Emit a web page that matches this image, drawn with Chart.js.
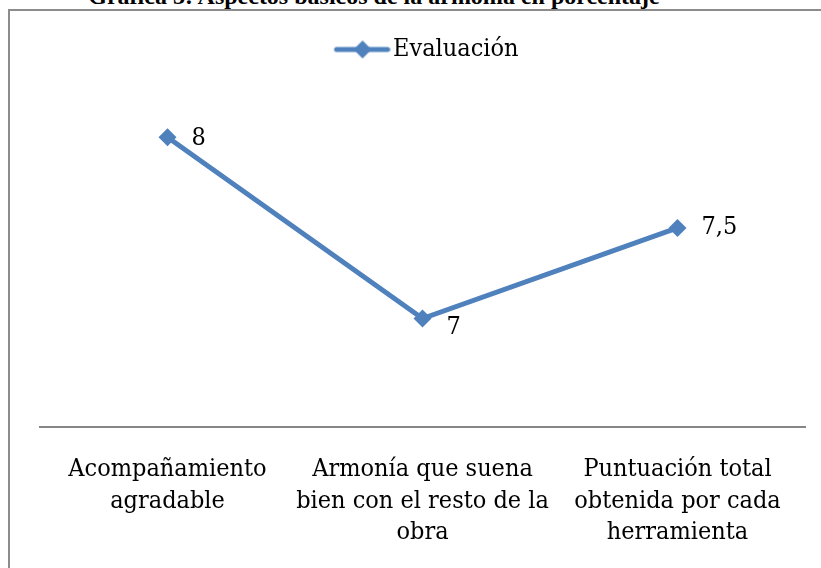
<!DOCTYPE html>
<html>
<head>
<meta charset="utf-8">
<script src="https://cdn.jsdelivr.net/npm/chart.js@4.4.1/dist/chart.umd.min.js"></script>
<style>
  body { margin: 0; background: #fff; overflow: hidden; }
  #wrap { position: relative; width: 821px; height: 568px; overflow: hidden; }
  #title {
    position: absolute; left: 0; top: -17px; width: 748px; text-align: center;
    font: bold 24px "Liberation Serif", serif; color: #000; white-space: nowrap;
  }
  #frame {
    position: absolute; left: 8px; top: 9px; width: 840px; height: 620px;
    border: 2px solid #8c8c8c; box-sizing: border-box;
  }
  canvas { position: absolute; left: 0; top: 0; }
</style>
</head>
<body>
<div id="wrap">
  <div id="title">Gráfica 3: Aspectos básicos de la armonía en porcentaje</div>
  <div id="frame"></div>
  <canvas id="myChart" width="821" height="600"></canvas>
</div>
<script>
// datos
const categorias = [
    ['Acompañamiento', 'agradable'],
    ['Armonía que suena', 'bien con el resto de la', 'obra'],
    ['Puntuación total', 'obtenida por cada', 'herramienta']
];
const evaluacion = [8, 7, 7.5];
const serieNombre = 'Evaluación';

const azul = '#4F81BD';
const fuente = '"DejaVu Serif Condensed", "DejaVu Serif", serif';

// icono de la leyenda: linea con rombo (con margen a la izquierda)
function legendIcon() {
    const c = document.createElement('canvas');
    c.width = 74; c.height = 22;
    const g = c.getContext('2d');
    g.strokeStyle = azul;
    g.lineWidth = 5;
    g.lineCap = 'round';
    g.beginPath(); g.moveTo(20, 11); g.lineTo(71, 11); g.stroke();
    g.fillStyle = azul;
    g.beginPath(); g.moveTo(46, 2); g.lineTo(55, 11); g.lineTo(46, 20); g.lineTo(37, 11); g.closePath(); g.fill();
    return c;
}
const icon = legendIcon();

// etiquetas de datos a la derecha de cada punto
const etiquetas = {
    id: 'etiquetas',
    afterDatasetsDraw(chart) {
        const ctx = chart.ctx;
        const meta = chart.getDatasetMeta(0);
        const dy = [1, 9, 0];
        ctx.save();
        ctx.font = '25px ' + fuente;
        ctx.fillStyle = '#000';
        ctx.textBaseline = 'middle';
        meta.data.forEach(function(pt, i) {
            const txt = String(evaluacion[i]).replace('.', ',');
            ctx.fillText(txt, pt.x + 24, pt.y + dy[i]);
        });
        ctx.restore();
    }
};

var ctx = document.getElementById('myChart').getContext('2d');
var myChart = new Chart(ctx, {
    type: 'line',
    data: {
        labels: categorias,
        datasets: [{
            label: serieNombre,
            data: evaluacion,
            borderColor: azul,
            backgroundColor: azul,
            borderWidth: 5,
            pointStyle: 'rectRot',
            pointRadius: 9,
            pointBorderWidth: 0,
            tension: 0,
        }]
    },
    options: {
        responsive: false,
        animation: false,
        layout: { padding: { left: 40, right: 16, top: 33, bottom: 33 } },
        plugins: {
            tooltip: { enabled: false },
            legend: {
                display: true,
                position: 'top',
                labels: {
                    usePointStyle: true,
                    pointStyleWidth: 54,
                    color: '#000',
                    font: { family: fuente, size: 25 },
                    padding: 4,
                    generateLabels: function(chart) {
                        return [{
                            text: serieNombre,
                            pointStyle: icon,
                            fillStyle: azul,
                            strokeStyle: azul,
                            lineWidth: 0,
                            datasetIndex: 0
                        }];
                    }
                }
            }
        },
        scales: {
            x: {
                offset: true,
                grid: { display: false },
                border: { display: true, color: '#868686', width: 2 },
                ticks: {
                    color: '#000',
                    font: { family: fuente, size: 25, lineHeight: 1.25 },
                    padding: 19,
                    maxRotation: 0,
                    autoSkip: false,
                }
            },
            y: {
                display: false,
                min: 6.4,
                max: 8.36,
            }
        }
    },
    plugins: [etiquetas]
});
</script>
</body>
</html>
